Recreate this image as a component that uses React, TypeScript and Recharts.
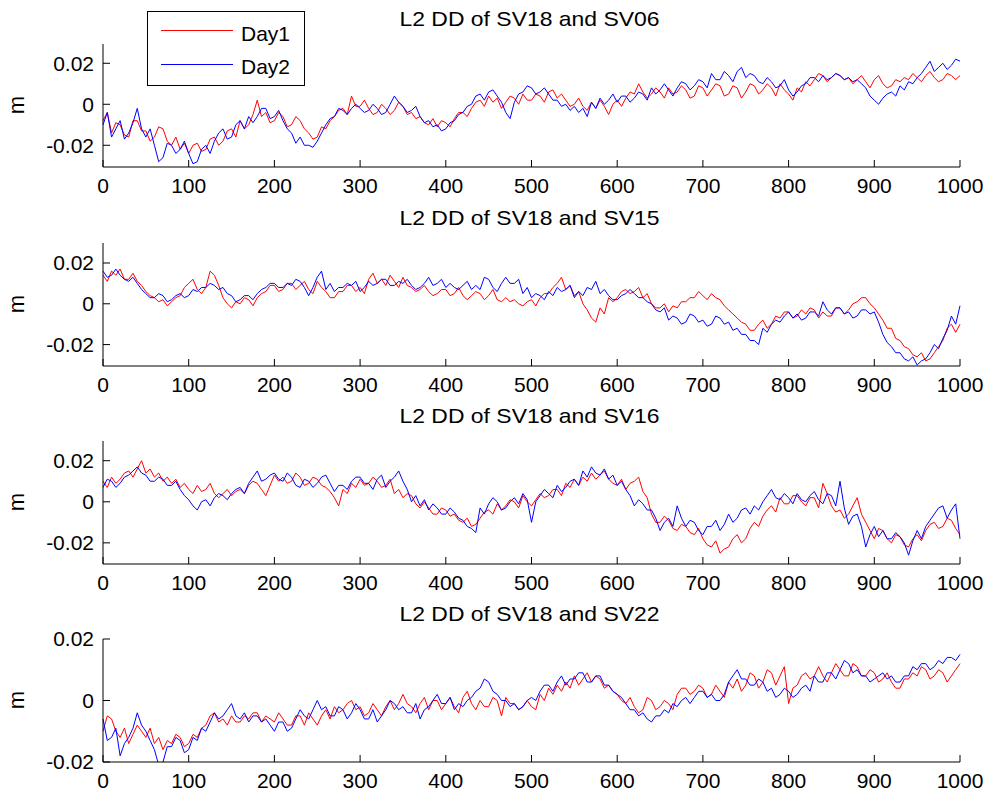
import { LineChart, Line, XAxis, YAxis, Legend } from "recharts";

// epoch index, one value every 5 epochs
const epochs = Array.from({ length: 201 }, (_, i) => i * 5);
const xTicks = [0, 100, 200, 300, 400, 500, 600, 700, 800, 900, 1000];
const yTicks = [-0.02, 0, 0.02];

const titles = [
  "L2 DD of SV18 and SV06",
  "L2 DD of SV18 and SV15",
  "L2 DD of SV18 and SV16",
  "L2 DD of SV18 and SV22",
];

// double differences in millimetres (converted to metres below)
const sv06Day1 = [
  -8, -4, -14, -9, -10, -15, -16, -8, -8, -13,
  -13, -18, -16, -11, -12, -18, -20, -16, -22, -19,
  -24, -20, -19, -23, -22, -17, -16, -20, -18, -13,
  -12, -16, -8, -12, -10, -5, 2, -6, -4, -9,
  -8, -4, -6, -11, -10, -6, -8, -12, -14, -17,
  -16, -11, -12, -8, -6, -3, -2, -5, 4, -1,
  -1, 2, -2, -5, -4, 0, -2, -5, -3, 1,
  -1, -5, -4, -7, -6, -9, -10, -7, -11, -8,
  -9, -11, -7, -4, -4, -6, -2, 1, 2, -1,
  4, 1, 3, -2, 1, 4, 3, 0, 5, 2,
  2, 5, 4, 1, 6, 7, 3, 5, 2, -1,
  0, 3, -1, -3, 1, -2, 2, -1, -5, 0,
  2, -1, 3, 6, 5, 10, 6, 3, 5, 8,
  6, 3, 8, 5, 6, 9, 7, 3, 4, 9,
  8, 4, 7, 10, 9, 4, 5, 9, 8, 3,
  6, 10, 9, 5, 7, 10, 8, 4, 10, 7,
  5, 2, 8, 6, 11, 9, 12, 15, 14, 11,
  13, 15, 14, 12, 13, 10, 12, 14, 11, 8,
  12, 14, 10, 8, 9, 12, 11, 13, 12, 15,
  13, 11, 14, 16, 13, 11, 12, 15, 14, 12, 14,
];
const sv06Day2 = [
  -10, -4, -16, -12, -8, -17, -14, -9, -2, -12,
  -16, -12, -20, -28, -26, -19, -20, -24, -22, -18,
  -24, -29, -28, -22, -20, -24, -18, -14, -12, -17,
  -16, -10, -8, -12, -6, -9, -6, -2, -2, -7,
  -6, -3, -8, -12, -14, -19, -16, -20, -20, -21,
  -18, -14, -10, -7, -6, -2, -3, -5, -2, 0,
  -2, -4, -3, 0, -2, -5, -4, 0, 4, 1,
  -1, -4, -3, -1, -6, -9, -8, -11, -10, -13,
  -12, -9, -8, -5, -4, -1, 0, 4, 5, 2,
  6, 7, 4, 1, -4, -7, 1, 5, 6, 9,
  8, 5, 6, 8, 5, 2, 2, -1, 0, -3,
  -1, -4, -2, -6, 1, -2, 3, 0, 2, 5,
  1, 4, 4, 1, 3, 6, 5, 2, 8, 5,
  7, 10, 7, 4, 8, 11, 10, 7, 9, 12,
  11, 8, 15, 12, 12, 16, 14, 11, 16, 18,
  13, 15, 14, 11, 10, 13, 11, 8, 9, 12,
  7, 4, 6, 9, 10, 13, 13, 11, 14, 12,
  13, 15, 14, 12, 13, 11, 12, 10, 8, 4,
  2, 0, 3, 5, 6, 4, 9, 7, 11, 10,
  13, 15, 18, 21, 16, 18, 20, 17, 19, 22, 21,
];

const sv15Day1 = [
  14, 11, 16, 14, 17, 12, 12, 15, 11, 9,
  6, 4, 3, 1, 2, -1, 1, 3, 4, 8,
  10, 12, 7, 5, 8, 16, 14, 9, 3, 0,
  -2, 1, 0, 3, 2, -1, 3, 5, 6, 9,
  9, 6, 7, 10, 10, 7, 9, 11, 7, 5,
  11, 8, 6, 3, 3, 6, 6, 9, 9, 6,
  8, 5, 12, 15, 10, 12, 9, 14, 11, 8,
  13, 9, 8, 6, 7, 9, 6, 4, 5, 7,
  7, 4, 5, 8, 4, 2, 4, 6, 5, 2,
  4, 7, 2, 1, 3, 1, 2, 0, -1, 1,
  2, -1, 3, 5, 5, 8, 10, 13, 7, 9,
  4, 6, 0, -3, -7, -9, -2, -5, 3, 1,
  3, 6, 7, 5, 6, 8, 3, 5, 0, -2,
  -2, 0, -4, -1, -2, 1, 1, 3, 3, 6,
  4, 2, 5, 3, 2, -1, -3, -5, -7, -9,
  -10, -13, -13, -10, -8, -12, -10, -6, -7, -4,
  -4, -7, -6, -3, -5, -2, -3, -7, -4, -6,
  -6, -2, -2, -5, -3, 0, 1, 3, 3, 0,
  -2, -5, -8, -12, -12, -17, -18, -21, -22, -25,
  -26, -24, -28, -27, -24, -21, -18, -12, -10, -14, -10,
];
const sv15Day2 = [
  16, 13, 14, 17, 14, 12, 11, 13, 10, 7,
  5, 3, 3, 5, 4, 1, 2, 4, 5, 3,
  4, 7, 6, 8, 8, 10, 9, 7, 8, 5,
  4, 1, 2, 4, 4, 2, 5, 7, 8, 10,
  10, 8, 8, 10, 9, 12, 11, 8, 4, 8,
  13, 16, 7, 10, 6, 8, 8, 10, 9, 11,
  6, 8, 11, 9, 10, 12, 12, 9, 9, 11,
  10, 12, 9, 7, 8, 10, 13, 9, 10, 12,
  8, 10, 8, 7, 9, 11, 7, 9, 7, 13,
  12, 8, 6, 10, 13, 10, 10, 12, 5, 8,
  3, 5, 4, 2, 6, 4, 8, 6, 7, 9,
  3, 6, 4, 8, 7, 11, 5, 7, 4, 2,
  2, 4, 5, 7, 5, 3, 3, 1, 0, -3,
  -4, -2, -8, -6, -7, -10, -9, -5, -6, -9,
  -8, -11, -10, -6, -7, -10, -9, -13, -12, -15,
  -15, -18, -18, -20, -12, -14, -10, -8, -9, -6,
  -4, -7, -5, -8, -7, -4, -4, -6, 1, -3,
  -5, -2, -2, -5, -4, -7, -6, -3, -3, -5,
  -4, -9, -15, -19, -21, -24, -24, -27, -28, -26,
  -30, -28, -27, -24, -20, -22, -17, -13, -6, -10, -1,
];

const sv16Day1 = [
  10, 7, 12, 9, 11, 14, 15, 12, 16, 20,
  14, 16, 12, 14, 10, 12, 9, 11, 7, 9,
  6, 4, 8, 5, 6, 9, 4, 2, 4, 6,
  3, 5, 6, 4, 8, 10, 9, 6, 3, 8,
  13, 10, 12, 9, 10, 14, 12, 8, 9, 12,
  11, 8, 7, 5, 2, -2, 6, 4, 9, 7,
  11, 8, 9, 12, 10, 7, 8, 11, 4, 6,
  2, 4, 3, -1, -3, 0, -3, -6, -6, -3,
  -4, -7, -6, -9, -10, -8, -12, -11, -8, -5,
  -4, -6, -1, -4, -2, 1, 0, -3, 3, 0,
  -2, 1, 4, 2, 3, 6, 6, 3, 9, 7,
  11, 8, 12, 10, 14, 11, 13, 15, 11, 9,
  8, 11, 6, 9, 10, 12, 5, 2, -6, -10,
  -10, -7, -9, -13, -14, -11, -12, -15, -16, -13,
  -18, -21, -22, -19, -25, -23, -22, -18, -16, -20,
  -18, -13, -10, -12, -7, -4, -2, -5, 2, -1,
  -1, 3, 3, 0, -2, 2, 2, -3, 9, 4,
  -2, -5, -4, -8, -6, -2, 2, -6, -10, -14,
  -18, -13, -14, -18, -20, -16, -17, -21, -22, -18,
  -16, -19, -14, -11, -10, -13, -12, -8, -9, -13, -16,
];
const sv16Day2 = [
  7, 11, 10, 7, 9, 12, 13, 15, 17, 14,
  13, 10, 10, 12, 11, 8, 8, 10, 6, 3,
  1, -2, -4, 0, 1, -2, 2, 4, 3, 1,
  4, 6, 7, 4, 9, 12, 15, 10, 11, 13,
  14, 11, 10, 14, 12, 8, 7, 11, 10, 7,
  9, 12, 13, 9, 5, 8, 8, 6, 10, 12,
  12, 9, 9, 6, 11, 13, 7, 10, 12, 15,
  10, 6, 0, 3, -2, 1, -4, -1, -3, -6,
  -6, -3, -5, -8, -9, -12, -13, -15, -3, -6,
  -1, 2, 0, -4, -3, 0, 2, -1, 4, 1,
  -10, 0, 3, 6, 4, 2, 8, 5, 7, 10,
  11, 8, 15, 12, 17, 14, 13, 16, 11, 13,
  8, 10, 6, 3, -2, 1, -1, -4, -4, -8,
  -14, -10, -8, -12, -2, -8, -12, -9, -10, -14,
  -16, -12, -12, -9, -14, -11, -6, -10, -8, -4,
  -3, -6, -2, -4, 0, 3, 6, 2, 1, 4,
  2, -1, 4, 1, 0, 3, 5, 1, -1, 4,
  3, -2, 10, -3, -11, -7, -6, -12, -22, -16,
  -12, -17, -14, -18, -18, -15, -17, -20, -26, -19,
  -14, -18, -12, -9, -6, -3, -2, -8, -4, -1, -18,
];

const sv22Day1 = [
  -10, -5, -6, -10, -12, -9, -14, -11, -8, -10,
  -12, -9, -14, -12, -16, -13, -14, -11, -12, -15,
  -14, -11, -12, -9, -8, -5, -4, -7, -6, -8,
  -5, -7, -7, -5, -6, -4, -4, -7, -5, -6,
  -7, -4, -6, -8, -8, -5, -5, -8, -4, -6,
  -8, -5, -3, -6, -2, -4, -3, -1, 0, -3,
  -2, -5, -4, -1, -3, -5, -2, 0, -3, -1,
  2, -1, -2, -4, -1, 1, -3, 0, 0, -3,
  -1, 1, -2, -4, 1, 3, -1, -3, 0, -2,
  -2, 1, 0, -5, 1, -1, -1, -3, -2, 0,
  -2, -3, 2, 0, 4, 2, 5, 3, 6, 4,
  8, 5, 7, 9, 6, 8, 7, 4, 5, 3,
  2, 0, -1, 1, -2, -4, -3, 1, 0, -3,
  -2, 0, -1, -3, 2, 4, 4, 2, 3, 5,
  4, 1, 2, 5, 3, 1, 6, 4, 7, 3,
  5, 9, 8, 4, 6, 10, 9, 5, 8, 11,
  -1, 4, 5, 8, 9, 7, 8, 11, 8, 6,
  9, 12, 10, 8, 8, 12, 11, 8, 8, 10,
  9, 6, 7, 9, 6, 4, 4, 7, 7, 9,
  8, 11, 10, 7, 8, 10, 9, 6, 8, 10, 12,
];
const sv22Day2 = [
  -6, -13, -12, -9, -18, -14, -12, -9, -4, -8,
  -10, -13, -16, -21, -20, -15, -15, -12, -13, -17,
  -16, -12, -13, -9, -10, -7, -4, -6, -5, -3,
  -1, -5, -6, -4, -7, -5, -5, -7, -6, -8,
  -10, -7, -7, -10, -9, -6, -3, -5, -6, -3,
  0, -3, -2, -5, -5, -2, -3, -6, -4, -1,
  -3, -6, -6, -3, -7, -5, -3, 0, -1, -3,
  -2, -4, -4, -1, -6, -3, -2, 0, 2, -1,
  -1, 1, -3, -1, -2, 0, 1, 3, 4, 7,
  6, 3, 2, 0, 0, -2, -1, -3, -2, 0,
  1, 0, 3, 5, 5, 3, 6, 8, 5, 7,
  7, 9, 9, 6, 6, 8, 8, 5, 5, 3,
  2, 1, -1, -3, -3, -5, -4, -6, -7, -5,
  -5, -3, -4, -1, -2, 0, 1, -1, 1, 3,
  3, 1, 2, 0, 0, 2, 6, 8, 10, 7,
  7, 5, 5, 7, 6, 3, 4, 1, 2, 4,
  3, 1, 2, 4, 5, 3, 8, 6, 6, 9,
  9, 7, 10, 13, 12, 9, 10, 8, 8, 6,
  7, 8, 9, 7, 8, 6, 6, 8, 8, 11,
  10, 12, 12, 10, 11, 13, 12, 14, 14, 13, 15,
];

const FONT = '"Liberation Sans", Arial, Helvetica, sans-serif';
const PLOT_LEFT = 103;
const PLOT_RIGHT = 960;
const PLOT_H = 123;

const panels = [
  { title: titles[0], day1: sv06Day1, day2: sv06Day2, top: 44, domain: [-0.0306, 0.0294] },
  { title: titles[1], day1: sv15Day1, day2: sv15Day2, top: 243, domain: [-0.0305, 0.0298] },
  { title: titles[2], day1: sv16Day1, day2: sv16Day2, top: 441, domain: [-0.0303, 0.0296] },
  { title: titles[3], day1: sv22Day1, day2: sv22Day2, top: 639, domain: [-0.02, 0.02] },
];

const tickStyle = { fontSize: 21, fill: "#000", fontFamily: FONT };

const formatY = (v: number) => (v === 0 ? "0" : v.toFixed(2));

const LegendBox = ({ payload }: { payload?: Array<{ value: string; color: string }> }) => (
  <svg width={159} height={76} style={{ display: "block" }}>
    <rect x={0.5} y={0.5} width={157} height={74} fill="#fff" stroke="#000" />
    {(payload || []).map((entry, i) => (
      <g key={entry.value}>
        <line x1={14} x2={86} y1={19.5 + i * 34} y2={19.5 + i * 34} stroke={entry.color} strokeWidth={1} />
        <text x={94} y={29.5 + i * 33} fontSize={21} fontFamily={FONT} fill="#000">
          {entry.value}
        </text>
      </g>
    ))}
  </svg>
);

function Panel({ index }: { index: number }) {
  const p = panels[index];
  const marginTop = index === 0 ? 44 : 22;
  const rows = epochs.map((x, i) => ({ x, day1: p.day1[i] / 1000, day2: p.day2[i] / 1000 }));
  return (
    <div style={{ position: "absolute", left: 0, top: p.top - marginTop }}>
      <LineChart
        width={989}
        height={marginTop + PLOT_H + 40}
        data={rows}
        margin={{ top: marginTop, right: 989 - PLOT_RIGHT, bottom: 0, left: 0 }}
      >
        <XAxis
          dataKey="x"
          type="number"
          domain={[0, 1000]}
          ticks={xTicks}
          height={40}
          tickSize={-7}
          tickMargin={18}
          tick={tickStyle}
          axisLine={{ stroke: "#000" }}
          tickLine={{ stroke: "#000" }}
          interval={0}
        />
        <YAxis
          type="number"
          domain={p.domain}
          ticks={yTicks}
          width={PLOT_LEFT}
          allowDataOverflow
          tickSize={-7}
          tickMargin={16}
          tick={tickStyle}
          tickFormatter={formatY}
          axisLine={{ stroke: "#000" }}
          tickLine={{ stroke: "#000" }}
          interval={0}
        />
        {index === 0 && (
          <Legend
            layout="vertical"
            align="center"
            verticalAlign="middle"
            wrapperStyle={{ left: 147, top: 11, width: 159, height: 76 }}
            content={(props: any) => <LegendBox payload={props.payload} />}
          />
        )}
        <Line
          type="linear"
          dataKey="day1"
          name="Day1"
          stroke="#ff0000"
          strokeWidth={1}
          dot={false}
          isAnimationActive={false}
        />
        <Line
          type="linear"
          dataKey="day2"
          name="Day2"
          stroke="#0000ff"
          strokeWidth={1}
          dot={false}
          isAnimationActive={false}
        />
      </LineChart>
    </div>
  );
}

export default function App() {
  return (
    <div
      style={{
        position: "absolute",
        left: 0,
        top: 0,
        width: 989,
        height: 796,
        background: "#fff",
        overflow: "hidden",
      }}
    >
      {panels.map((_, i) => (
        <Panel key={i} index={i} />
      ))}
      <svg
        width={989}
        height={796}
        style={{ position: "absolute", left: 0, top: 0, pointerEvents: "none" }}
      >
        {panels.map((p) => (
          <g key={p.title}>
            <text
              x={(PLOT_LEFT + PLOT_RIGHT) / 2 - 2}
              y={p.top - 18.5}
              textAnchor="middle"
              fontSize={21}
              fontFamily={FONT}
              textLength={260}
              lengthAdjust="spacingAndGlyphs"
              fill="#000"
            >
              {p.title}
            </text>
            <text
              x={24}
              y={p.top + 61}
              transform={`rotate(-90 24 ${p.top + 61})`}
              textAnchor="middle"
              fontSize={22}
              fontFamily={FONT}
              fill="#000"
            >
              m
            </text>
          </g>
        ))}
      </svg>
    </div>
  );
}
